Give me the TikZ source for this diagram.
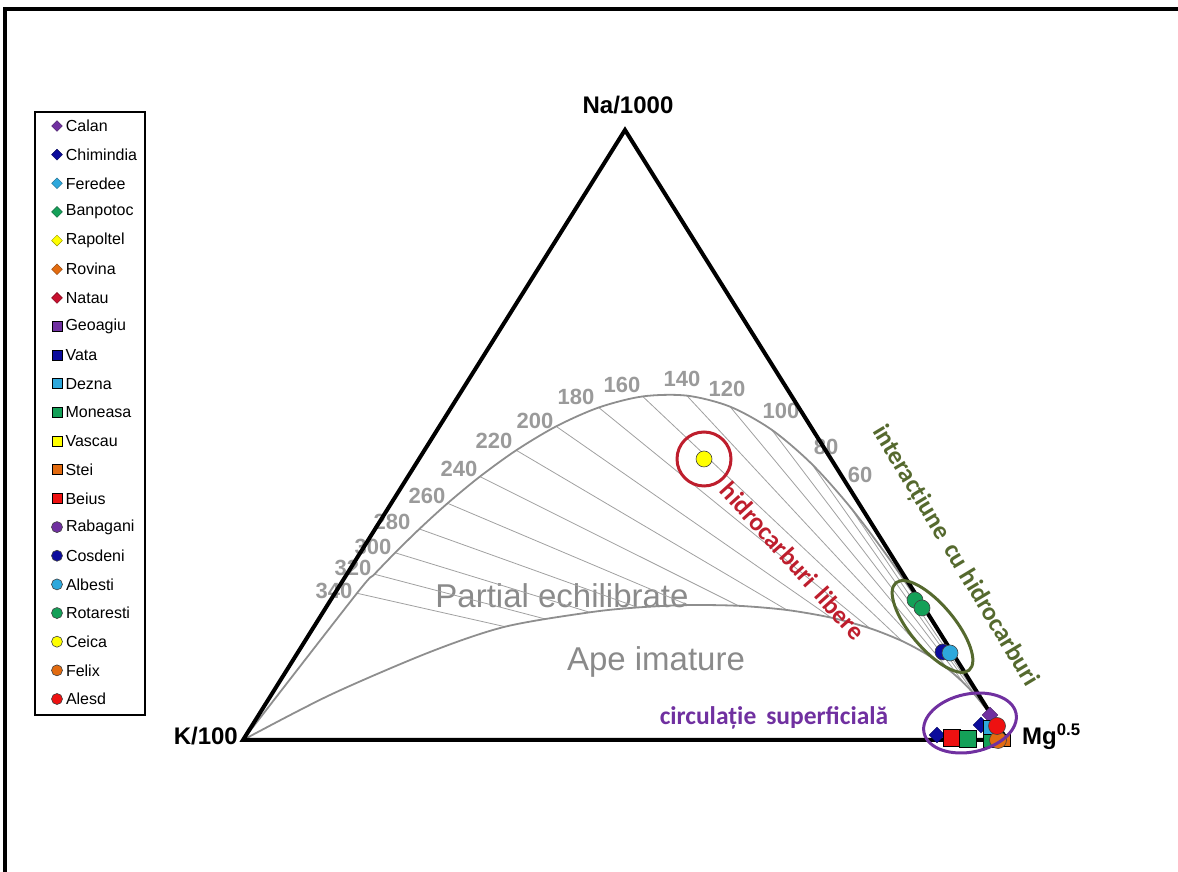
\documentclass[tikz,border=0pt]{standalone}
\usepackage{fontspec}
\setmainfont{Liberation Sans}
\newfontfamily\calibrifont{Carlito}
\usetikzlibrary{positioning,shapes.geometric,calc}

\definecolor{ptPurple}{HTML}{7030A0}
\definecolor{ptNavy}{HTML}{0C0C9C}
\definecolor{ptSky}{HTML}{2EA8DC}
\definecolor{ptGreen}{HTML}{14A058}
\definecolor{ptYellow}{HTML}{FFFF00}
\definecolor{ptOrange}{HTML}{E26B10}
\definecolor{ptRed}{HTML}{EE1111}
\definecolor{ptDiaRed}{HTML}{C8102E}
\definecolor{libRed}{HTML}{BE1E2D}
\definecolor{intOlive}{HTML}{55692E}
\definecolor{tieGray}{HTML}{A0A0A0}
\definecolor{curveGray}{HTML}{8E8E8E}
\definecolor{numGray}{HTML}{9A9A9A}
\definecolor{regionGray}{HTML}{8A8A8A}

\tikzset{
  dia/.style={diamond,fill=#1,draw=#1!60!black,line width=0.4pt,inner sep=0pt,minimum size=11pt},
  sq/.style={rectangle,fill=#1,draw=black,line width=0.7pt,inner sep=0pt,minimum size=10pt},
  dot/.style={circle,fill=#1,draw=black!75,line width=0.6pt,inner sep=0pt,minimum size=11pt},
  legtext/.style={font=\fontsize{16}{18}\selectfont,inner sep=0pt,anchor=west},
  vlabel/.style={font=\fontsize{24}{28}\selectfont\bfseries,inner sep=0pt},
  tnum/.style={font=\fontsize{22}{24}\selectfont\bfseries,text=numGray,inner sep=0pt},
  region/.style={font=\fontsize{33}{36}\selectfont,text=regionGray,inner sep=0pt},
  annot/.style={font=\calibrifont\fontsize{25.5}{28}\selectfont\bfseries,inner sep=0pt},
  tieline/.style={tieGray,line width=0.8pt},
  eqcurve/.style={curveGray,line width=1.8pt},
  tri/.style={line width=4pt,line join=miter},
  legframe/.style={line width=1.2pt},
  outerframe/.style={line width=4pt},
  libring/.style={libRed,line width=3pt},
  intring/.style={intOlive,line width=3pt},
  supring/.style={ptPurple,line width=3pt}
}

\begin{document}
\begin{tikzpicture}[
  x=1pt,y=1pt,
  declare function={
    lkn(\tc)=1.75-1390/(\tc+273);
    lkm(\tc)=14-4410/(\tc+273);
    lna(\tc)=-3-lkn(\tc);
    lmgup(\tc)=-0.5*lkm(\tc);
    lmglo(\tc)=-0.5*(2+lkn(\tc))/0.315;
    tmax(\pa,\pc)=max(\pa,-2,\pc);
    wna(\pa,\pc)=pow(10,max(\pa-tmax(\pa,\pc),-3.9));
    wk(\pa,\pc)=pow(10,max(-2-tmax(\pa,\pc),-3.9));
    wmg(\pa,\pc)=pow(10,max(\pc-tmax(\pa,\pc),-3.9));
    ternx(\pa,\pc)=(625*wna(\pa,\pc)+243*wk(\pa,\pc)+1007*wmg(\pa,\pc))/(wna(\pa,\pc)+wk(\pa,\pc)+wmg(\pa,\pc));
    terny(\pa,\pc)=(742*wna(\pa,\pc)+132*wk(\pa,\pc)+132*wmg(\pa,\pc))/(wna(\pa,\pc)+wk(\pa,\pc)+wmg(\pa,\pc));
  }
]
  \useasboundingbox (0,0) rectangle (1178,872);
  \clip (0,0) rectangle (1178,872);
  \draw[outerframe] (5,-20) rectangle (1200,863);

  % corners of the ternary plot
  \coordinate (K)  at (243,132);
  \coordinate (Na) at (625,742);
  \coordinate (Mg) at (1007,132);

  % legend
  \draw[legframe] (35,157) rectangle (145,760);
  \foreach \name/\col [count=\i from 0] in {Calan/ptPurple,Chimindia/ptNavy,Feredee/ptSky,Banpotoc/ptGreen,Rapoltel/ptYellow,Rovina/ptOrange,Natau/ptDiaRed}{
    \node[dia=\col] (leg-\name) at (57,{746-28.65*\i}) {};
    \node[legtext,right=3pt of leg-\name] {\name};
  }
  \foreach \name/\col [count=\i from 7] in {Geoagiu/ptPurple,Vata/ptNavy,Dezna/ptSky,Moneasa/ptGreen,Vascau/ptYellow,Stei/ptOrange,Beius/ptRed}{
    \node[sq=\col] (leg-\name) at (57,{746-28.65*\i}) {};
    \node[legtext,right=3pt of leg-\name] {\name};
  }
  \foreach \name/\col [count=\i from 14] in {Rabagani/ptPurple,Cosdeni/ptNavy,Albesti/ptSky,Rotaresti/ptGreen,Ceica/ptYellow,Felix/ptOrange,Alesd/ptRed}{
    \node[dot=\col] (leg-\name) at (57,{746-28.65*\i}) {};
    \node[legtext,right=3pt of leg-\name] {\name};
  }

  % temperatures and fields
  \foreach \T/\lx/\ly in {340/334/281,320/353/304,300/373/325,280/392/350,260/427/376,240/459/403,220/494/431,200/535/451,180/576/475,160/622/487,140/682/493,120/727/483,100/781/461,80/826/425,60/860/397}
    \node[tnum] (num-\T) at (\lx,\ly) {\T};
  \node[region] (partial) at (562,276) {Partial echilibrate};
  \node[region] (imature) at (656,210) {Ape imature};

  % full (up) and partial (lo) equilibrium points, tie lines
  \foreach \T in {340,320,...,0}{
    \coordinate (up-\T) at ({ternx(lna(\T),lmgup(\T))},{terny(lna(\T),lmgup(\T))});
    \coordinate (lo-\T) at ({ternx(lna(\T),lmglo(\T))},{terny(lna(\T),lmglo(\T))});
    \ifnum\T>50 \draw[tieline] (up-\T) -- (lo-\T);\fi
  }
  \draw[eqcurve] plot[smooth] coordinates {(K) (up-340) (up-320) (up-300) (up-280) (up-260) (up-240) (up-220) (up-200) (up-180) (up-160) (up-140) (up-120) (up-100) (up-80) (up-60) (up-40) (up-20) (up-0) (Mg)};
  \draw[eqcurve] plot[smooth] coordinates {(K) (330,177) (430,220) (lo-340) (lo-300) (lo-280) (lo-260) (lo-240) (lo-220) (lo-200) (lo-180) (lo-160) (lo-140) (lo-120) (lo-100) (lo-80) (lo-60) (lo-40) (lo-20) (Mg)};

  \draw[tri] (K) -- (Na) -- (Mg) -- cycle;

  \node[vlabel,anchor=base] (naLab) at ([xshift=3pt,yshift=16pt]Na) {Na/1000};
  \node[vlabel,anchor=base east] (kLab) at ([xshift=-5pt,yshift=-5pt]K) {K/100};
  \node[vlabel,anchor=base west] (mgLab) at ([xshift=15pt,yshift=-5pt]Mg) {Mg\textsuperscript{0.5}};

  % samples
  \node[dot=ptYellow,minimum size=16pt] (ceica) at (704,413) {};
  \node[dot=ptGreen,minimum size=16pt] (rotaresti1) at (915,272) {};
  \node[dot=ptGreen,minimum size=16pt] (rotaresti2) at (922,264) {};
  \node[dot=ptNavy,minimum size=16pt] (cosdeni) at (943,220) {};
  \node[dot=ptSky,minimum size=16pt] (albesti) at (950,219) {};
  \node[dia=ptNavy,minimum size=16pt] (chimindia1) at (937,137) {};
  \node[sq=ptRed,minimum size=17pt] (beius) at (952,134) {};
  \node[sq=ptGreen,minimum size=17pt] (moneasa1) at (968,133) {};
  \node[sq=ptOrange,minimum size=12pt] (stei) at (1004,132) {};
  \node[sq=ptGreen,minimum size=15pt] (moneasa2) at (991,132) {};
  \node[dia=ptPurple,minimum size=16pt] (calan) at (990,157) {};
  \node[dia=ptNavy,minimum size=16pt] (chimindia2) at (981,147) {};
  \node[sq=ptSky,minimum size=14pt] (dezna) at (990,145) {};
  \node[dot=ptOrange,minimum size=17pt] (felix) at (998,132) {};
  \node[dot=ptRed,minimum size=17pt] (alesd) at (997,146) {};

  % groups
  \draw[libring] (ceica) circle (27);
  \coordinate (intc) at ($(rotaresti1)!0.5!(albesti)$);
  \draw[intring,rotate around={-50:(intc)}] (intc) ellipse (57 and 22);
  \coordinate (supc) at (970,149);
  \draw[supring,rotate around={12:(supc)}] (supc) ellipse (47 and 29);

  \node[annot,text=libRed,rotate=-48] (hcLibere) at (793,311) {hidrocarburi\hspace{10pt}libere};
  \node[annot,text=intOlive,rotate=-59] (hcInter) at (955,316) {interacțiune\hspace{10pt}cu hidrocarburi};
  \node[annot,text=ptPurple] (circSup) at (774,154) {circulație\hspace{10pt}superficială};
\end{tikzpicture}
\end{document}
